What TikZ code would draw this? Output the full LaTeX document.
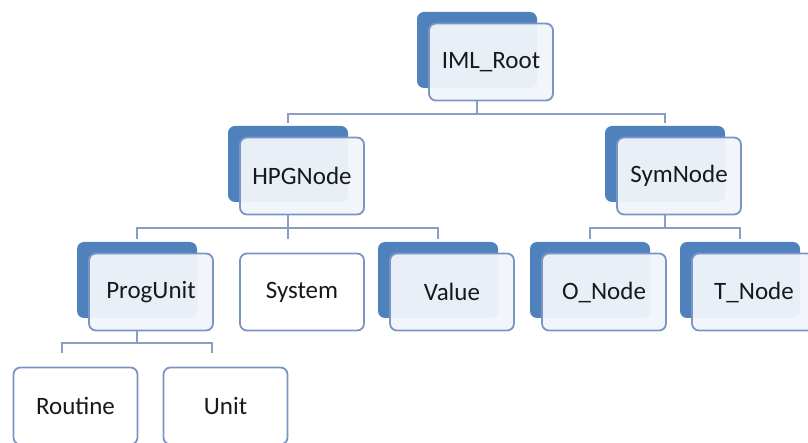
\documentclass[tikz,border=0pt]{standalone}
\usepackage{fontspec}
\setmainfont{Carlito}
\definecolor{backblue}{HTML}{4F81BD}
\definecolor{frameblue}{HTML}{7A95C4}
\definecolor{frontfill}{HTML}{F1F5FB}
\definecolor{linkblue}{HTML}{889EC4}

\begin{document}
\begin{tikzpicture}[
      x=1pt, y=-1pt,
      font=\fontsize{25}{30}\selectfont,
      text=black!90,
      back/.style={rectangle, rounded corners=7pt, fill=backblue,
        minimum width=120pt, minimum height=76pt, inner sep=0pt},
      front/.style={rectangle, rounded corners=7pt, draw=frameblue,
        line width=1.8pt, fill=frontfill, fill opacity=0.95, text opacity=1,
        minimum width=124pt, minimum height=77pt, inner sep=0pt},
      plain/.style={front, fill=white, fill opacity=1},
      link/.style={draw=linkblue, line width=2.2pt}
    ]
    \useasboundingbox (0,0) rectangle (808,443);

    % level 0
    \node (root-b) [back] at (477,50) {};
    \node (root) [front] at (491,62) {IML\_Root};

    % level 1
    \node (hpg-b) [back] at (288,164) {};
    \node (hpg) [front] at (302,176) {HPGNode};
    \node (sym-b) [back] at (665,164) {};
    \node (sym) [front] at (679,176) {SymNode};

    % level 2
    \node (prog-b) [back] at (137,280) {};
    \node (prog) [front] at (151,292) {ProgUnit};
    \node (sys) [plain] at (302,292) {System};
    \node (val-b) [back] at (438,280) {};
    \node (val) [front] at (452,292) {Value};
    \node (onode-b) [back] at (590,280) {};
    \node (onode) [front] at (604,292) {O\_Node};
    \node (tnode-b) [back] at (740,280) {};
    \node (tnode) [front] at (754,292) {T\_Node};

    % level 3
    \node (rout) [plain] at (75.5,406) {Routine};
    \node (unit) [plain] at (225.5,406) {Unit};

    % connectors
    \coordinate (bus1) at (477,114);
    \coordinate (bus2) at (288,228);
    \coordinate (bus3) at (665,228);
    \coordinate (bus4) at (137,343);
    \draw[link] (root-b |- root.south) -- (bus1);
    \draw[link] ([yshift=3pt]hpg-b.north) |- (bus1) -| ([yshift=3pt]sym-b.north);
    \draw[link] (hpg-b |- hpg.south) -- ([yshift=3pt]prog-b.north -| hpg-b);
    \draw[link] ([yshift=3pt]prog-b.north) |- (bus2) -| ([yshift=3pt]val-b.north);
    \draw[link] (sym-b |- sym.south) -- (bus3);
    \draw[link] ([yshift=3pt]onode-b.north) |- (bus3) -| ([yshift=3pt]tnode-b.north);
    \draw[link] (prog-b |- prog.south) -- (bus4);
    \draw[link] ([xshift=-13.5pt,yshift=14pt]rout.north) |- (bus4)
      -| ([xshift=-13.5pt,yshift=14pt]unit.north);
  \end{tikzpicture}
\end{document}
